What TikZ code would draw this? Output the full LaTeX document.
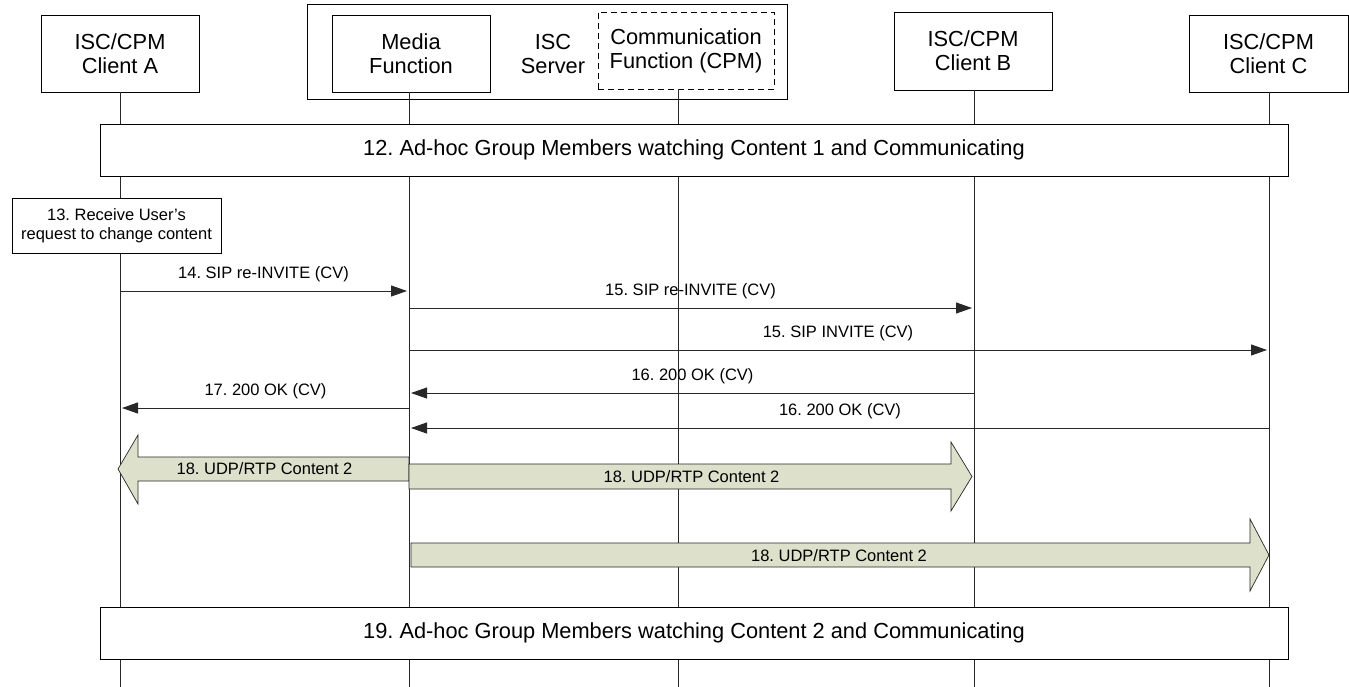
\documentclass[tikz,border=0pt]{standalone}
\usepackage{fontspec}
\setmainfont{Liberation Sans}
\usetikzlibrary{arrows.meta}
\definecolor{flow}{RGB}{221,224,203}
\definecolor{ln}{RGB}{40,40,40}
\frenchspacing
\begin{document}
\begin{tikzpicture}[x=1pt,y=-1pt,
  box/.style={draw=black, line width=0.9pt, fill=white, inner sep=0pt, align=center, font=\fontsize{21.8}{24}\selectfont},
  life/.style={draw=ln, line width=1pt},
  msg/.style={draw=ln, line width=1pt, -{Triangle[length=16pt,width=11pt]}},
  lbl/.style={font=\fontsize{16.5}{19}\selectfont, inner sep=0pt},
  flowarrow/.style={draw=ln, line width=0.7pt, fill=flow}]
\useasboundingbox (0,0) rectangle (1349,687);

% entities
\node[box, minimum width=480pt, minimum height=95pt] (srv) at (547,51.5) {};
\node[inner sep=0pt, align=center, font=\fontsize{21.8}{24}\selectfont] (srvlbl) at (553,54) {ISC\\Server};
\node[box, minimum width=158pt, minimum height=77pt] (A) at (120,53.5) {ISC/CPM\\Client A};
\node[box, minimum width=158pt, minimum height=77pt] (MF) at (411,53.5) {Media\\Function};
\node[box, dashed, dash pattern=on 6pt off 4pt, minimum width=176pt, minimum height=77pt] (CF) at (686,50.5) {Communication\\Function (CPM)};
\node[box, minimum width=158pt, minimum height=78pt] (B) at (973,51) {ISC/CPM\\Client B};
\node[box, minimum width=159pt, minimum height=77pt] (C) at (1268.5,53.5) {ISC/CPM\\Client C};

% lifelines
\coordinate (Aend) at (120,687);
\coordinate (MFend) at (409,687);
\coordinate (CFend) at (678,687);
\coordinate (Bend) at (974,687);
\coordinate (Cend) at (1269,687);
\draw[life] (120,92) -- (Aend);
\draw[life] (409,92) -- (MFend);
\draw[life] (678,89) -- (CFend);
\draw[life] (974,90) -- (Bend);
\draw[life] (1269,92) -- (Cend);

% bands
\node[box, minimum width=1188pt, minimum height=52pt] (b12) at (694,150) {12. Ad-hoc Group Members watching Content 1 and Communicating};
\node[box, minimum width=1188pt, minimum height=52pt] (b19) at (694,633) {19. Ad-hoc Group Members watching Content 2 and Communicating};

% step 13
\node[box, font=\fontsize{16.5}{19}\selectfont, minimum width=209pt, minimum height=55pt] (s13) at (116.5,225.5) {13. Receive User’s\\request to change content};

% messages
\coordinate (m14a) at (120,291);  \coordinate (m14b) at (407,291);
\coordinate (m15a) at (409,308);  \coordinate (m15b) at (972,308);
\coordinate (m15c) at (409,350);  \coordinate (m15d) at (1267,350);
\coordinate (m16a) at (974,393);  \coordinate (m16b) at (411,393);
\coordinate (m17a) at (409,408);  \coordinate (m17b) at (122,408);
\coordinate (m16c) at (1269,428); \coordinate (m16d) at (411,428);
\draw[msg] (m14a) -- (m14b) node[lbl, midway, yshift=16.5pt] (l14) {14. SIP re-INVITE (CV)};
\draw[msg] (m15a) -- (m15b) node[lbl, midway, yshift=16.5pt] (l15a) {15. SIP re-INVITE (CV)};
\draw[msg] (m15c) -- (m15d) node[lbl, midway, yshift=16.5pt] (l15b) {15. SIP INVITE (CV)};
\draw[msg] (m16a) -- (m16b) node[lbl, midway, yshift=16.5pt] (l16a) {16. 200 OK (CV)};
\draw[msg] (m17a) -- (m17b) node[lbl, midway, yshift=16.5pt] (l17) {17. 200 OK (CV)};
\draw[msg] (m16c) -- (m16d) node[lbl, midway, yshift=16.5pt] (l16b) {16. 200 OK (CV)};

% media flows
\draw[flowarrow] (409,457) -- (138,457) -- (138,435) -- (118,469) -- (138,504) -- (138,481) -- (409,481) -- cycle;
\node[lbl] (f18a) at (264.5,469) {18. UDP/RTP Content 2};
\draw[flowarrow] (409,464) -- (951,464) -- (951,442) -- (972,476.5) -- (951,511) -- (951,489) -- (409,489) -- cycle;
\node[lbl] (f18b) at (691.5,477) {18. UDP/RTP Content 2};
\draw[flowarrow] (411,543) -- (1250,543) -- (1250,519) -- (1269,555) -- (1250,591) -- (1250,567) -- (411,567) -- cycle;
\node[lbl] (f18c) at (839,556) {18. UDP/RTP Content 2};
\end{tikzpicture}
\end{document}
